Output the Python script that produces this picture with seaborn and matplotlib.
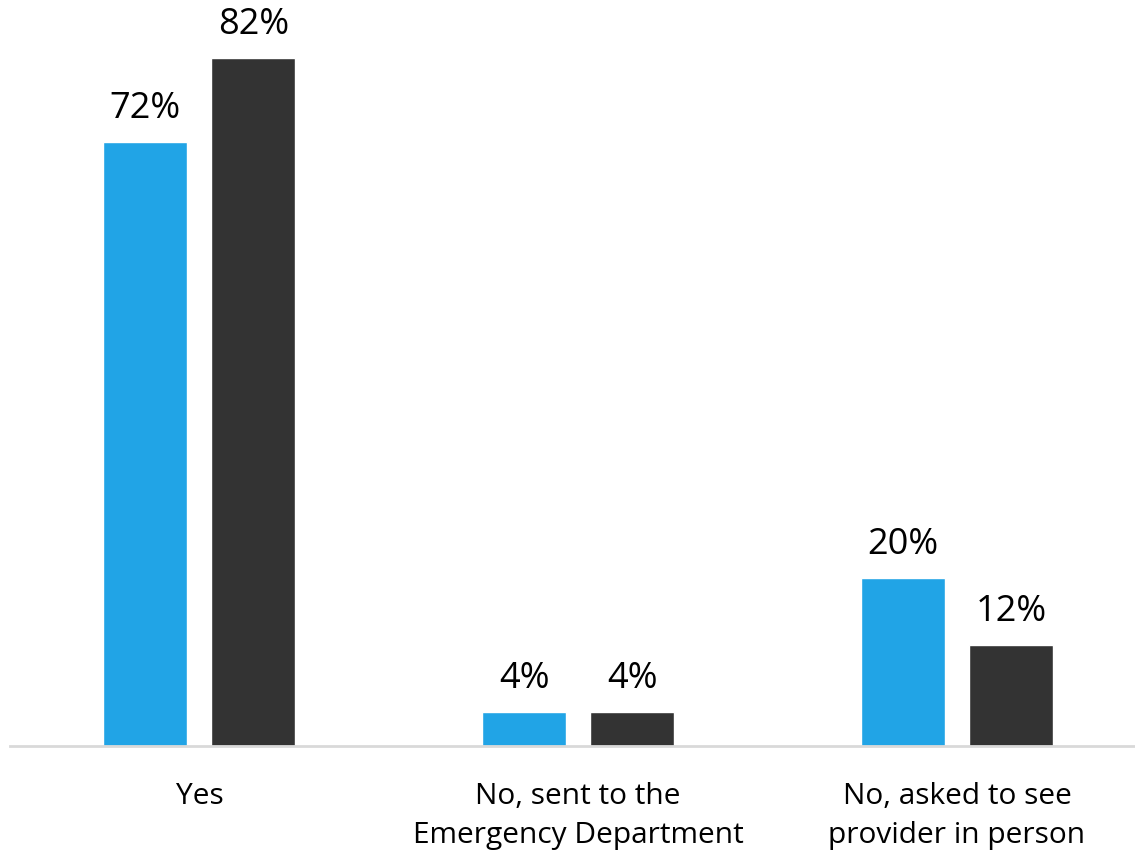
import matplotlib
matplotlib.use("Agg")
import matplotlib.pyplot as plt
import seaborn as sns
import pandas as pd

categories = ["Yes", "No, sent to the\nEmergency Department", "No, asked to see\nprovider in person"]
series_names = ["Group A", "Group B"]
values_a = [72, 4, 20]
values_b = [82, 4, 12]
colors = ["#21A4E6", "#333333"]

df = pd.DataFrame({
    "category": categories * 2,
    "series": [series_names[0]] * 3 + [series_names[1]] * 3,
    "value": values_a + values_b,
})

sns.set_theme(style="white")
plt.rcParams["font.family"] = ["Open Sans", "DejaVu Sans"]

fig = plt.figure(figsize=(11.35, 8.56), dpi=100)
ax = fig.add_axes([10 / 1135, 110 / 856, 1125 / 1135, 746 / 856])

sns.barplot(data=df, x="category", y="value", hue="series", order=categories,
            hue_order=series_names, palette=colors, width=0.57, gap=0.222,
            legend=False, ax=ax, saturation=1)

for cont in ax.containers:
    ax.bar_label(cont, labels=[f"{v:.0f}%" for v in cont.datavalues],
                 padding=11, fontsize=26, color="#000000")

ax.set_xlim(-0.5, 2.47)
ax.set_ylim(0, 88.9)
ax.set_xlabel("")
ax.set_ylabel("")
ax.set_yticks([])
for s in ["top", "right", "left"]:
    ax.spines[s].set_visible(False)
ax.spines["bottom"].set_color("#D9D9D9")
ax.spines["bottom"].set_linewidth(2)
ax.tick_params(axis="x", length=0, pad=26, labelsize=21.5, labelcolor="#000000")
for lbl in ax.get_xticklabels():
    lbl.set_linespacing(1.45)

fig.savefig("out.png", dpi=100)
